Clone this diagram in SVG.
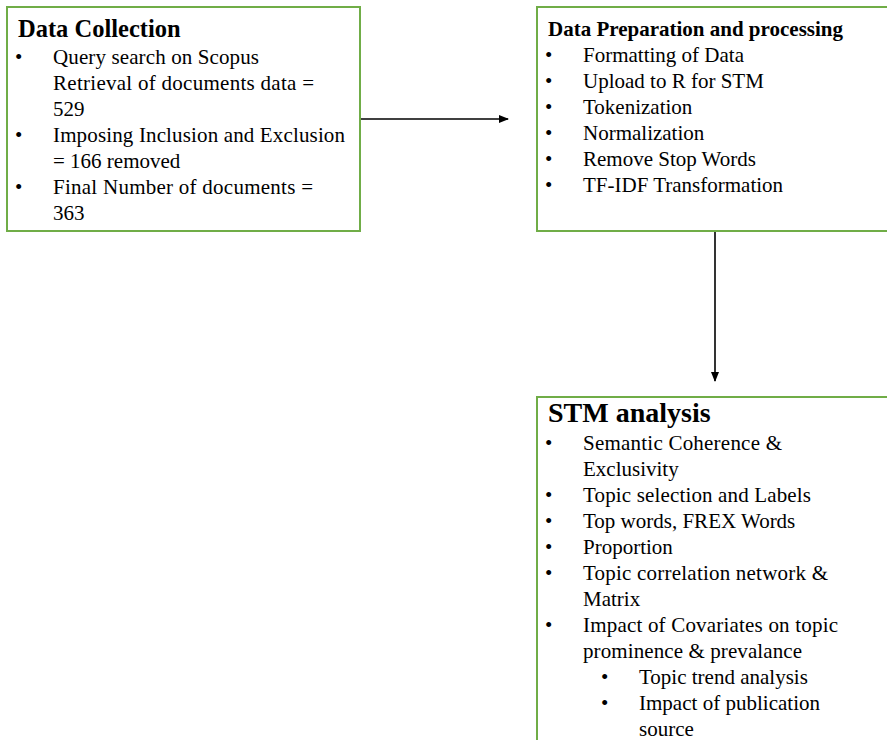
<svg xmlns="http://www.w3.org/2000/svg" width="887" height="740" viewBox="0 0 887 740">
<defs>
<marker id="ah" markerWidth="10" markerHeight="8" refX="9" refY="4" orient="auto" markerUnits="userSpaceOnUse">
<path d="M0,0 L10,4 L0,8 Z" fill="#000"/>
</marker>
<style>
.box{fill:#fff;stroke:#70AD47;stroke-width:2}
.t{font-size:21px}
.h1{font-size:24.5px;font-weight:bold}
.h2{font-size:21px;font-weight:bold}
.h3{font-size:28px;font-weight:bold}
.c{stroke:#000;stroke-width:1.6;fill:none}
</style>
</defs>
<rect width="887" height="740" fill="#fff"/>
<g id="connectors">
<line class="c" x1="360" y1="119" x2="508" y2="119" marker-end="url(#ah)"/>
<line class="c" x1="715" y1="232" x2="715" y2="381" marker-end="url(#ah)"/>
</g>
<g id="data-collection" fill="#000">
<rect class="box" x="7" y="7" width="353" height="224"/>
<text font-family="Liberation Serif" class="h1" x="18" y="37">Data Collection</text>
<text font-family="Liberation Serif" class="t" x="15" y="64">•</text><text font-family="Liberation Serif" class="t" x="53" y="64" textLength="206" lengthAdjust="spacing">Query search on Scopus</text>
<text font-family="Liberation Serif" class="t" x="53" y="90" textLength="261" lengthAdjust="spacing">Retrieval of documents data =</text>
<text font-family="Liberation Serif" class="t" x="53" y="116">529</text>
<text font-family="Liberation Serif" class="t" x="15" y="142">•</text><text font-family="Liberation Serif" class="t" x="53" y="142" textLength="292" lengthAdjust="spacing">Imposing Inclusion and Exclusion</text>
<text font-family="Liberation Serif" class="t" x="53" y="168">= 166 removed</text>
<text font-family="Liberation Serif" class="t" x="15" y="194">•</text><text font-family="Liberation Serif" class="t" x="53" y="194" textLength="260" lengthAdjust="spacing">Final Number of documents =</text>
<text font-family="Liberation Serif" class="t" x="53" y="220">363</text>
</g>
<g id="data-preparation" fill="#000">
<rect class="box" x="537" y="7" width="360" height="224"/>
<text font-family="Liberation Serif" class="h2" x="548" y="36">Data Preparation and processing</text>
<text font-family="Liberation Serif" class="t" x="545" y="62">•</text><text font-family="Liberation Serif" class="t" x="583" y="62">Formatting of Data</text>
<text font-family="Liberation Serif" class="t" x="545" y="88">•</text><text font-family="Liberation Serif" class="t" x="583" y="88">Upload to R for STM</text>
<text font-family="Liberation Serif" class="t" x="545" y="114">•</text><text font-family="Liberation Serif" class="t" x="583" y="114">Tokenization</text>
<text font-family="Liberation Serif" class="t" x="545" y="140">•</text><text font-family="Liberation Serif" class="t" x="583" y="140">Normalization</text>
<text font-family="Liberation Serif" class="t" x="545" y="166">•</text><text font-family="Liberation Serif" class="t" x="583" y="166">Remove Stop Words</text>
<text font-family="Liberation Serif" class="t" x="545" y="192">•</text><text font-family="Liberation Serif" class="t" x="583" y="192">TF-IDF Transformation</text>
</g>
<g id="stm-analysis" fill="#000">
<rect class="box" x="537" y="397" width="360" height="360"/>
<text font-family="Liberation Serif" class="h3" x="548" y="422">STM analysis</text>
<text font-family="Liberation Serif" class="t" x="545" y="450">•</text><text font-family="Liberation Serif" class="t" x="583" y="450" textLength="199" lengthAdjust="spacing">Semantic Coherence &amp;</text>
<text font-family="Liberation Serif" class="t" x="583" y="476">Exclusivity</text>
<text font-family="Liberation Serif" class="t" x="545" y="502">•</text><text font-family="Liberation Serif" class="t" x="583" y="502" textLength="228" lengthAdjust="spacing">Topic selection and Labels</text>
<text font-family="Liberation Serif" class="t" x="545" y="528">•</text><text font-family="Liberation Serif" class="t" x="583" y="528">Top words, FREX Words</text>
<text font-family="Liberation Serif" class="t" x="545" y="554">•</text><text font-family="Liberation Serif" class="t" x="583" y="554">Proportion</text>
<text font-family="Liberation Serif" class="t" x="545" y="580">•</text><text font-family="Liberation Serif" class="t" x="583" y="580" textLength="245" lengthAdjust="spacing">Topic correlation network &amp;</text>
<text font-family="Liberation Serif" class="t" x="583" y="606">Matrix</text>
<text font-family="Liberation Serif" class="t" x="545" y="632">•</text><text font-family="Liberation Serif" class="t" x="583" y="632" textLength="255" lengthAdjust="spacing">Impact of Covariates on topic</text>
<text font-family="Liberation Serif" class="t" x="583" y="658" textLength="219" lengthAdjust="spacing">prominence &amp; prevalance</text>
<text font-family="Liberation Serif" class="t" x="601" y="684">•</text><text font-family="Liberation Serif" class="t" x="639" y="684">Topic trend analysis</text>
<text font-family="Liberation Serif" class="t" x="601" y="710">•</text><text font-family="Liberation Serif" class="t" x="639" y="710" textLength="181" lengthAdjust="spacing">Impact of publication</text>
<text font-family="Liberation Serif" class="t" x="639" y="736">source</text>
</g>
</svg>
